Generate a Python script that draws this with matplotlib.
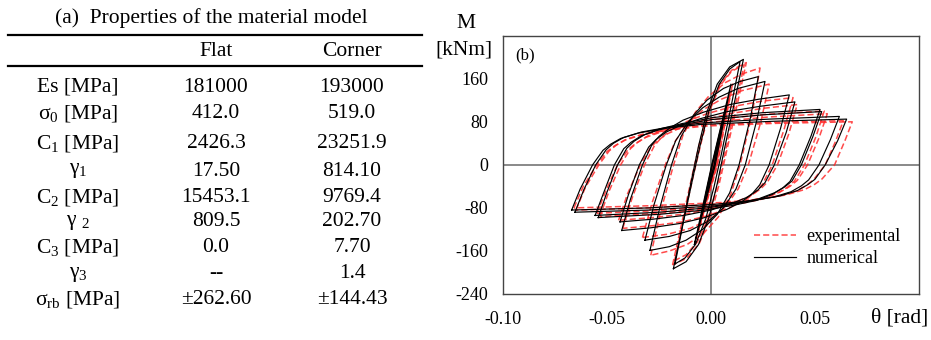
import numpy as np
import matplotlib.pyplot as plt
from matplotlib.lines import Line2D

plt.rcParams['font.family'] = 'Liberation Serif'
plt.rcParams['mathtext.fontset'] = 'custom'
plt.rcParams['mathtext.rm'] = 'Liberation Serif'
plt.rcParams['mathtext.it'] = 'Liberation Serif:italic'

# ---- (a) table data
table_title = '(a)  Properties of the material model'
col_header = ['Flat', 'Corner']
row_labels = ['Es [MPa]', 'σ$_0$ [MPa]', 'C$_1$ [MPa]', 'γ$_1$', 'C$_2$ [MPa]',
              'γ $_2$', 'C$_3$ [MPa]', 'γ$_3$', 'σ$_{\\mathrm{rb}}$ [MPa]']
flat_vals = ['181000', '412.0', '2426.3', '17.50', '15453.1', '809.5', '0.0', '--', '±262.60']
corner_vals = ['193000', '519.0', '23251.9', '814.10', '9769.4', '202.70', '7.70', '1.4', '±144.43']

# ---- (b) hysteresis loops, (theta [rad], M [kNm])
numerical_loops = [
    # small elastic cycles
    [(-0.0027, -60), (0.0008, 2), (0.0045, 62), (0.0014, -2), (-0.0027, -60)],
    [(-0.0050, -100), (0.0006, 1), (0.0068, 102), (0.0016, -1), (-0.0050, -100)],
    [(-0.0080, -148), (0.0004, 1), (0.0096, 150), (0.0020, -1), (-0.0080, -148)],
    # +-0.015 cycles
    [(-0.0181, -193), (-0.0140, -118), (-0.0095, -30), (-0.0060, 35), (-0.0020, 98), (0.0030, 150),
     (0.0090, 182), (0.0156, 196), (0.0115, 120), (0.0065, 30), (0.0030, -35), (-0.0010, -98),
     (-0.0060, -148), (-0.0120, -180), (-0.0181, -193)],
    [(-0.0173, -184), (-0.0135, -110), (-0.0085, -20), (-0.0050, 40), (-0.0010, 100), (0.0040, 150),
     (0.0090, 178), (0.0140, 192), (0.0100, 115), (0.0050, 20), (0.0015, -40), (-0.0025, -100),
     (-0.0075, -148), (-0.0125, -173), (-0.0173, -184)],
    # larger cycles
    [(-0.0294, -159), (-0.0250, -85), (-0.0190, 0), (-0.0145, 52), (-0.0085, 92), (-0.0020, 120),
     (0.0060, 142), (0.0140, 155), (0.0228, 164), (0.0190, 88), (0.0135, 0), (0.0090, -52),
     (0.0030, -92), (-0.0040, -120), (-0.0120, -140), (-0.0200, -152), (-0.0294, -159)],
    [(-0.0318, -140), (-0.0275, -75), (-0.0215, 0), (-0.0170, 45), (-0.0110, 80), (-0.0040, 106),
     (0.0040, 126), (0.0130, 142), (0.0260, 155), (0.0220, 82), (0.0165, 0), (0.0120, -45),
     (0.0060, -80), (-0.0010, -104), (-0.0100, -122), (-0.0200, -133), (-0.0318, -140)],
    [(-0.0430, -122), (-0.0388, -64), (-0.0330, 0), (-0.0285, 37), (-0.0250, 53), (-0.0200, 68),
     (-0.0135, 83), (-0.0035, 98), (0.0090, 112), (0.0230, 122), (0.0377, 130), (0.0335, 68),
     (0.0280, 0), (0.0235, -37), (0.0200, -53), (0.0150, -68), (0.0075, -83), (-0.0030, -98),
     (-0.0150, -109), (-0.0290, -117), (-0.0430, -122)],
    [(-0.0438, -106), (-0.0398, -56), (-0.0345, 0), (-0.0300, 33), (-0.0265, 47), (-0.0215, 61),
     (-0.0150, 73), (-0.0050, 86), (0.0080, 99), (0.0240, 109), (0.0404, 117), (0.0362, 60),
     (0.0305, 0), (0.0260, -33), (0.0225, -47), (0.0175, -60), (0.0100, -72), (0.0000, -84),
     (-0.0130, -94), (-0.0280, -101), (-0.0438, -106)],
    [(-0.0543, -98), (-0.0502, -52), (-0.0450, 0), (-0.0405, 31), (-0.0370, 44), (-0.0320, 56),
     (-0.0245, 67), (-0.0135, 77), (0.0010, 88), (0.0250, 97), (0.0525, 103), (0.0482, 54),
     (0.0425, 0), (0.0380, -31), (0.0345, -43), (0.0295, -55), (0.0220, -66), (0.0110, -75),
     (-0.0030, -84), (-0.0250, -92), (-0.0543, -98)],
    [(-0.0558, -94), (-0.0515, -50), (-0.0465, 0), (-0.0420, 30), (-0.0385, 42), (-0.0335, 54),
     (-0.0260, 64), (-0.0150, 74), (0.0000, 84), (0.0250, 93), (0.0533, 99), (0.0490, 52),
     (0.0435, 0), (0.0390, -30), (0.0355, -41), (0.0305, -52), (0.0230, -63), (0.0120, -72),
     (-0.0020, -80), (-0.0250, -88), (-0.0558, -94)],
    [(-0.0655, -88), (-0.0612, -46), (-0.0555, 0), (-0.0505, 28), (-0.0470, 40), (-0.0420, 51),
     (-0.0335, 61), (-0.0205, 70), (-0.0040, 78), (0.0280, 85), (0.0618, 90), (0.0575, 47),
     (0.0520, 0), (0.0470, -28), (0.0435, -39), (0.0385, -50), (0.0300, -60), (0.0180, -68),
     (0.0020, -76), (-0.0300, -84), (-0.0655, -88)],
    [(-0.0671, -84), (-0.0630, -45), (-0.0570, 0), (-0.0520, 27), (-0.0485, 38), (-0.0435, 49),
     (-0.0350, 59), (-0.0220, 68), (-0.0050, 75), (0.0300, 81), (0.0653, 85), (0.0610, 45),
     (0.0550, 0), (0.0500, -27), (0.0465, -37), (0.0415, -48), (0.0330, -58), (0.0200, -66),
     (0.0030, -73), (-0.0300, -80), (-0.0671, -84)],
]

experimental_loops = [
    [(-0.0022, -58), (0.0012, 3), (0.0050, 64), (0.0020, -3), (-0.0022, -58)],
    [(-0.0035, -80), (0.0014, 2), (0.0060, 86), (0.0024, -2), (-0.0035, -80)],
    [(-0.0044, -100), (0.0010, 2), (0.0074, 106), (0.0022, -2), (-0.0044, -100)],
    [(-0.0060, -122), (0.0016, 2), (0.0090, 128), (0.0030, -2), (-0.0060, -122)],
    [(-0.0074, -140), (0.0008, 2), (0.0104, 150), (0.0028, -2), (-0.0074, -140)],
    [(-0.0185, -186), (-0.0143, -112), (-0.0092, -22), (-0.0055, 40), (-0.0012, 100), (0.0040, 148),
     (0.0100, 176), (0.0170, 190), (0.0128, 115), (0.0075, 25), (0.0038, -38), (-0.0005, -98),
     (-0.0055, -145), (-0.0118, -174), (-0.0185, -186)],
    [(-0.0175, -178), (-0.0135, -105), (-0.0082, -15), (-0.0045, 45), (-0.0005, 102), (0.0045, 148),
     (0.0100, 174), (0.0160, 186), (0.0118, 112), (0.0065, 18), (0.0028, -42), (-0.0015, -100),
     (-0.0065, -143), (-0.0120, -167), (-0.0175, -178)],
    [(-0.0290, -168), (-0.0245, -90), (-0.0180, 0), (-0.0135, 55), (-0.0075, 98), (-0.0010, 128),
     (0.0070, 153), (0.0150, 169), (0.0236, 180), (0.0198, 95), (0.0140, 0), (0.0095, -55),
     (0.0035, -97), (-0.0035, -127), (-0.0115, -148), (-0.0200, -160), (-0.0290, -168)],
    [(-0.0330, -135), (-0.0285, -72), (-0.0220, 0), (-0.0172, 44), (-0.0110, 78), (-0.0035, 103),
     (0.0050, 122), (0.0150, 138), (0.0280, 150), (0.0240, 80), (0.0180, 0), (0.0132, -44),
     (0.0070, -78), (-0.0005, -101), (-0.0100, -118), (-0.0210, -129), (-0.0330, -135)],
    [(-0.0425, -118), (-0.0380, -62), (-0.0320, 0), (-0.0272, 36), (-0.0238, 51), (-0.0188, 66),
     (-0.0120, 80), (-0.0020, 95), (0.0100, 108), (0.0240, 118), (0.0395, 125), (0.0352, 66),
     (0.0295, 0), (0.0248, -36), (0.0214, -51), (0.0164, -66), (0.0088, -80), (-0.0020, -95),
     (-0.0140, -106), (-0.0280, -113), (-0.0425, -118)],
    [(-0.0445, -103), (-0.0402, -54), (-0.0340, 0), (-0.0292, 32), (-0.0258, 45), (-0.0208, 58),
     (-0.0140, 70), (-0.0040, 83), (0.0090, 95), (0.0250, 105), (0.0415, 112), (0.0375, 58),
     (0.0320, 0), (0.0272, -32), (0.0238, -45), (0.0188, -58), (0.0112, -70), (0.0010, -81),
     (-0.0120, -91), (-0.0280, -98), (-0.0445, -103)],
    [(-0.0535, -96), (-0.0492, -50), (-0.0435, 0), (-0.0388, 30), (-0.0353, 42), (-0.0303, 54),
     (-0.0228, 65), (-0.0118, 75), (0.0030, 85), (0.0270, 94), (0.0545, 100), (0.0505, 52),
     (0.0450, 0), (0.0402, -30), (0.0367, -42), (0.0317, -53), (0.0242, -64), (0.0130, -73),
     (-0.0020, -82), (-0.0250, -90), (-0.0535, -96)],
    [(-0.0550, -90), (-0.0505, -47), (-0.0450, 0), (-0.0400, 28), (-0.0365, 39), (-0.0315, 51),
     (-0.0240, 61), (-0.0130, 71), (0.0020, 80), (0.0280, 89), (0.0560, 95), (0.0520, 50),
     (0.0465, 0), (0.0415, -29), (0.0380, -40), (0.0330, -51), (0.0255, -61), (0.0140, -70),
     (-0.0010, -78), (-0.0250, -85), (-0.0550, -90)],
    [(-0.0650, -84), (-0.0605, -42), (-0.0540, 0), (-0.0490, 26), (-0.0455, 37), (-0.0405, 48),
     (-0.0320, 58), (-0.0190, 67), (-0.0020, 74), (0.0300, 79), (0.0637, 82), (0.0600, 44),
     (0.0550, 0), (0.0495, -27), (0.0460, -38), (0.0410, -49), (0.0325, -58), (0.0195, -66),
     (0.0020, -73), (-0.0300, -80), (-0.0650, -84)],
    [(-0.0660, -80), (-0.0615, -40), (-0.0550, 0), (-0.0500, 25), (-0.0465, 35), (-0.0415, 46),
     (-0.0330, 56), (-0.0200, 65), (-0.0030, 72), (0.0300, 77), (0.0680, 80), (0.0645, 45),
     (0.0595, 0), (0.0535, -26), (0.0500, -36), (0.0450, -46), (0.0360, -56), (0.0230, -64),
     (0.0050, -70), (-0.0300, -76), (-0.0660, -80)],
]

x_ticks = [-0.10, -0.05, 0.00, 0.05]
x_ticklabels = ['-0.10', '-0.05', '0.00', '0.05']
y_ticks = [-240, -160, -80, 0, 80, 160]
y_ticklabels = ['-240', '-160', '-80', '0', '80', '160']

W, H = 931, 340
fig = plt.figure(figsize=(W / 100, H / 100), dpi=100)

# ---- table (a), drawn as text in pixel layout
def fx(px):
    return px / W

def fy(py):
    return 1 - py / H

fs_tab = 15.5
fig.text(fx(211), fy(18), table_title, ha='center', va='center', fontsize=fs_tab)
for yy in (35, 66):
    fig.add_artist(Line2D([fx(8), fx(422)], [fy(yy), fy(yy)], color='black', lw=1.6))
col_x = [78, 216, 352]
fig.text(fx(col_x[1]), fy(52), col_header[0], ha='center', va='center', fontsize=fs_tab)
fig.text(fx(col_x[2]), fy(52), col_header[1], ha='center', va='center', fontsize=fs_tab)
row_y = [87, 114, 143, 171, 197, 222, 248, 274, 300]
for lab, fv, cv, yy in zip(row_labels, flat_vals, corner_vals, row_y):
    fig.text(fx(col_x[0]), fy(yy), lab, ha='center', va='center', fontsize=fs_tab)
    fig.text(fx(col_x[1]), fy(yy), fv, ha='center', va='center', fontsize=fs_tab)
    fig.text(fx(col_x[2]), fy(yy), cv, ha='center', va='center', fontsize=fs_tab)

# ---- plot (b)
ax = fig.add_axes([503.3 / W, 1 - 294 / H, 415.4 / W, 258.3 / H])
ax.axhline(0, color='#6a6a6a', lw=1.1, zorder=1)
ax.axvline(0, color='#6a6a6a', lw=1.1, zorder=1)
red = '#ff2a2a'
for pts in experimental_loops:
    t, m = np.array(pts).T
    ax.plot(t, m, color=red, lw=1.1, ls=(0, (4, 2)), alpha=0.85, zorder=2)
for pts in numerical_loops:
    t, m = np.array(pts).T
    ax.plot(t, m, color='black', lw=0.85, zorder=3)

ax.set_xlim(-0.10, 0.10)
ax.set_ylim(-240, 240)
ax.set_xticks(x_ticks)
ax.set_xticklabels(x_ticklabels, fontsize=13)
ax.set_yticks(y_ticks)
ax.set_yticklabels(y_ticklabels, fontsize=13)
ax.tick_params(length=0)
ax.tick_params(axis='y', pad=11)
ax.tick_params(axis='x', pad=12)
for s in ax.spines.values():
    s.set_color('#444444')
    s.set_linewidth(1.0)

ax.text(0.028, 0.925, '(b)', transform=ax.transAxes, fontsize=12, ha='left', va='center')
fig.text(fx(466), fy(23), 'M', ha='center', va='center', fontsize=15.5)
fig.text(fx(464), fy(50), '[kNm]', ha='center', va='center', fontsize=15.5)
fig.text(fx(900), fy(318), 'θ [rad]', ha='center', va='center', fontsize=15.5)

handles = [Line2D([], [], color=red, lw=1.1, ls=(0, (4, 2)), alpha=0.85),
           Line2D([], [], color='black', lw=0.85)]
fig.legend(handles, ['experimental', 'numerical'], loc='upper left',
           bbox_to_anchor=(fx(754), fy(228)), frameon=False, fontsize=13,
           handlelength=2.3, handletextpad=0.6, labelspacing=0.3,
           borderpad=0, borderaxespad=0)

fig.savefig('out.png', dpi=100)
